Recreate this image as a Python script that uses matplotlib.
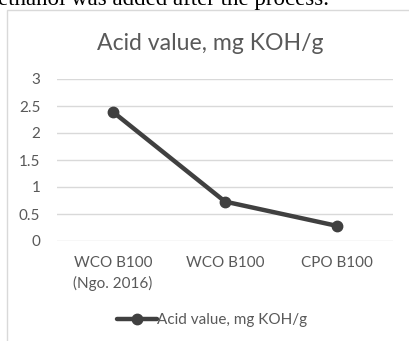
import matplotlib
matplotlib.use("Agg")
import matplotlib.pyplot as plt
from matplotlib.patches import Rectangle

categories = ["WCO B100\n(Ngo. 2016)", "WCO B100", "CPO B100"]
values = [2.39, 0.73, 0.28]
yticks = [0, 0.5, 1, 1.5, 2, 2.5, 3]
ytick_labels = ["0", "0.5", "1", "1.5", "2", "2.5", "3"]
series_name = "Acid value, mg KOH/g"
title = "Acid value, mg KOH/g"

W, H = 409, 341
fig = plt.figure(figsize=(W / 100, H / 100), dpi=100)
fig.patch.set_facecolor("white")

# chart frame
fig.patches.append(Rectangle((7 / W, -0.1), 1.2, (H - 10) / H + 0.1, transform=fig.transFigure,
                             fill=False, edgecolor="#d9d9d9", linewidth=1.0))
# cut-off text line above the chart
fig.text(-0.005, 1 - 5 / H, "ethanol was added after the process.", family="Liberation Serif",
         fontsize=16.5, color="black", ha="left", va="baseline")

ax = fig.add_axes([57 / W, (H - 241) / H, (393 - 57) / W, (241 - 79) / H])
ax.set_facecolor("none")
x = list(range(len(categories)))
ax.plot(x, values, color="#404040", linewidth=3.2, marker="o", markersize=7.5,
        label=series_name, solid_capstyle="round", zorder=3)
ax.set_xlim(-0.5, len(categories) - 0.5)
ax.set_ylim(0, 3)
ax.set_yticks(yticks)
ax.set_yticklabels(ytick_labels)
ax.set_xticks(x)
ax.set_xticklabels(categories, linespacing=1.45)
for s in ax.spines.values():
    s.set_visible(False)
ax.grid(axis="y", color="#d9d9d9", linewidth=1.0)
ax.set_axisbelow(True)
ax.tick_params(axis="both", length=0, colors="#595959", labelsize=11)
ax.tick_params(axis="y", pad=12)
ax.tick_params(axis="x", pad=11)
for lab in ax.get_xticklabels() + ax.get_yticklabels():
    lab.set_family("Lato")

fig.text(210 / W, 1 - 43 / H, title, family="Lato", fontsize=16.6, color="#595959",
         ha="center", va="center")

leg = ax.legend(loc="center left", bbox_to_anchor=(117 / W, 1 - 320 / H), bbox_transform=fig.transFigure,
                frameon=False, prop={"family": "Lato", "size": 11}, handlelength=2.6,
                handletextpad=0.05, borderpad=0, borderaxespad=0, labelcolor="#595959")

fig.savefig("out.png", dpi=100, facecolor="white")
